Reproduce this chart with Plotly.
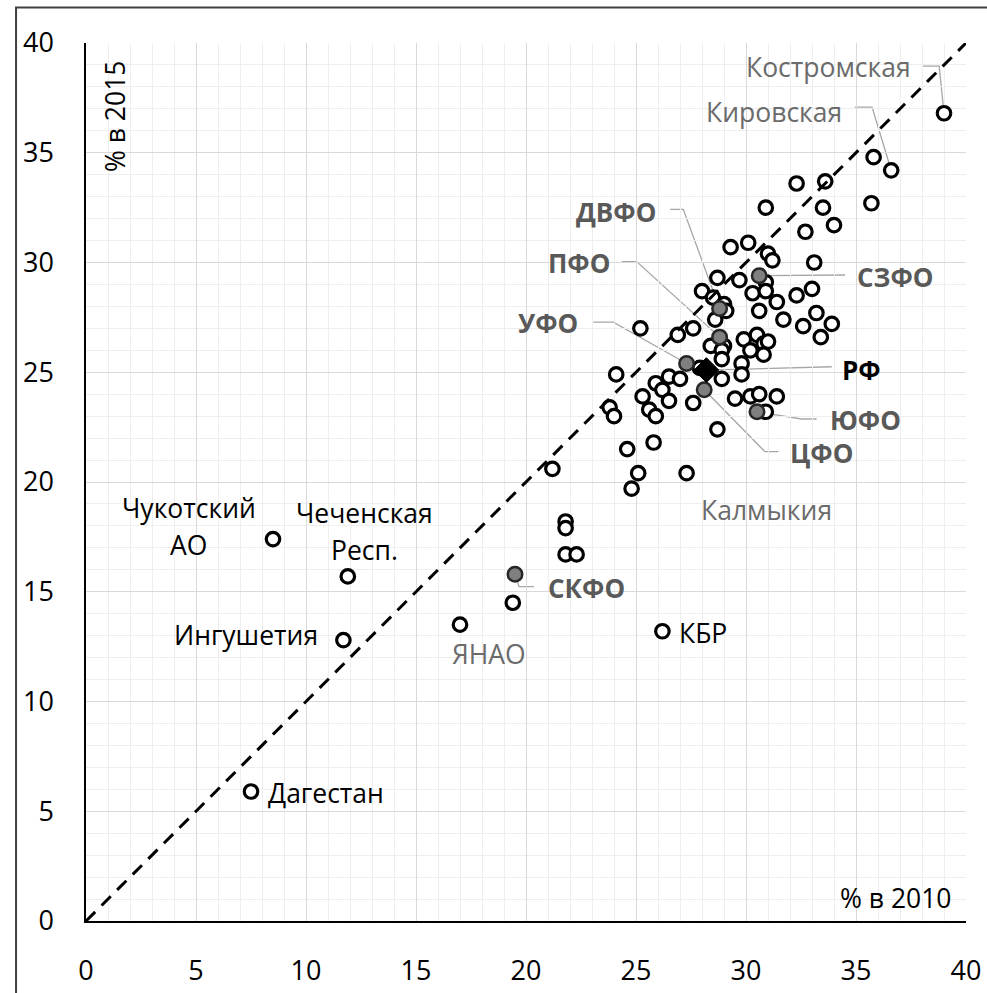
import plotly.graph_objects as go

# ---------------- data ----------------
# open-circle regions: % in 2010 (x) and % in 2015 (y)
reg_x = [39.0, 36.6, 35.8, 35.7, 33.6, 32.3, 30.9, 33.5, 34.0, 32.7, 29.3, 30.1, 31.0, 31.2, 33.1,
         28.7, 29.7, 30.9, 28.0, 28.5, 29.0, 29.1, 28.6, 30.3, 30.9, 31.4, 32.3, 33.0, 30.6, 31.7,
         33.2, 32.6, 33.9, 33.4, 25.2, 26.9, 27.6, 28.4, 29.0, 28.9, 29.9, 30.5, 30.8, 31.0, 30.2,
         30.8, 29.8, 29.8, 28.9, 27.9, 28.9, 24.1, 26.5, 27.0, 25.9, 26.2, 25.3, 26.5, 25.6, 25.9,
         23.8, 24.0, 27.6, 29.5, 30.2, 30.6, 31.4, 30.9, 28.7, 25.8, 24.6, 25.1, 24.8, 27.3, 21.2,
         21.8, 21.8, 21.8, 22.3, 19.4, 17.0, 26.2, 8.5, 11.9, 11.7, 7.5]
reg_y = [36.8, 34.2, 34.8, 32.7, 33.7, 33.6, 32.5, 32.5, 31.7, 31.4, 30.7, 30.9, 30.4, 30.1, 30.0,
         29.3, 29.2, 29.1, 28.7, 28.4, 28.1, 27.8, 27.4, 28.6, 28.7, 28.2, 28.5, 28.8, 27.8, 27.4,
         27.7, 27.1, 27.2, 26.6, 27.0, 26.7, 27.0, 26.2, 26.2, 26.0, 26.5, 26.7, 26.3, 26.4, 26.0,
         25.8, 25.4, 24.9, 25.6, 25.2, 24.7, 24.9, 24.8, 24.7, 24.5, 24.2, 23.9, 23.7, 23.3, 23.0,
         23.4, 23.0, 23.6, 23.8, 23.9, 24.0, 23.9, 23.2, 22.4, 21.8, 21.5, 20.4, 19.7, 20.4, 20.6,
         18.2, 17.9, 16.7, 16.7, 14.5, 13.5, 13.2, 17.4, 15.7, 12.8, 5.9]

# federal districts (grey filled)
fo_names = ["СЗФО", "ДВФО", "ПФО", "УФО", "ЦФО", "ЮФО", "СКФО"]
fo_x = [30.6, 28.8, 28.8, 27.3, 28.1, 30.5, 19.5]
fo_y = [29.4, 27.9, 26.6, 25.4, 24.2, 23.2, 15.8]

# Russian Federation
rf_x = [28.2]
rf_y = [25.1]

# diagonal reference line y = x
diag = [0, 40]

ticks = [0, 5, 10, 15, 20, 25, 30, 35, 40]

# ---------------- figure ----------------
FONT = "Open Sans"
fig = go.Figure()

fig.add_trace(go.Scatter(
    x=reg_x, y=reg_y, mode="markers", hoverinfo="skip",
    marker=dict(symbol="circle", size=13.5, color="white",
                line=dict(color="black", width=3.2))))
fig.add_trace(go.Scatter(
    x=fo_x, y=fo_y, mode="markers", hoverinfo="skip",
    marker=dict(symbol="circle", size=14.5, color="#7f7f7f",
                line=dict(color="#262626", width=2.5))))
fig.add_trace(go.Scatter(
    x=rf_x, y=rf_y, mode="markers", hoverinfo="skip",
    marker=dict(symbol="diamond", size=19, color="black",
                line=dict(color="black", width=1))))
fig.add_trace(go.Scatter(
    x=diag, y=diag, mode="lines", hoverinfo="skip",
    line=dict(color="black", width=3, dash="13px,9px")))

# ---------------- labels ----------------
GRAY = "#6b6b6b"
FOC = "#595959"
anns = [
    # text, x, y, xanchor, color, bold
    ("Костромская", 37.59, 38.92, "right", GRAY, False),
    ("Кировская", 34.45, 36.87, "right", GRAY, False),
    ("ДВФО", 26.0, 32.31, "right", FOC, True),
    ("ПФО", 23.9, 29.96, "right", FOC, True),
    ("УФО", 22.45, 27.23, "right", FOC, True),
    ("СЗФО", 34.95, 29.35, "left", FOC, True),
    ("РФ", 34.27, 25.1, "left", "black", True),
    ("ЮФО", 33.74, 22.82, "left", FOC, True),
    ("ЦФО", 31.92, 21.31, "left", FOC, True),
    ("СКФО", 20.89, 15.15, "left", FOC, True),
    ("Калмыкия", 30.95, 18.72, "center", GRAY, False),
    ("Чукотский", 4.67, 18.82, "center", "black", False),
    ("АО", 4.67, 17.11, "center", "black", False),
    ("Чеченская", 12.65, 18.59, "center", "black", False),
    ("Респ.", 12.68, 16.9, "center", "black", False),
    ("Ингушетия", 10.62, 13.05, "right", "black", False),
    ("Дагестан", 8.18, 5.84, "left", "black", False),
    ("ЯНАО", 18.31, 12.15, "center", GRAY, False),
    ("КБР", 26.86, 13.12, "left", "black", False),
    ("% в 2010", 39.45, 1.03, "right", "black", False),
]
for t, x, y, xa, col, bold in anns:
    fig.add_annotation(x=x, y=y, xref="x", yref="y", text=f"<b>{t}</b>" if bold else t,
                       showarrow=False, xanchor=xa, yanchor="middle",
                       font=dict(family=FONT, size=26 if bold else 26.5, color=col))
fig.add_annotation(x=1.29, y=36.69, xref="x", yref="y", text="% в 2015", textangle=-90,
                   showarrow=False, xanchor="center", yanchor="middle",
                   font=dict(family=FONT, size=26.5, color="black"))

# leader lines (label -> point)
leaders = [
    [(38.02, 38.95), (38.78, 38.95), (39.0, 36.8)],
    [(34.95, 37.08), (35.73, 37.08), (36.6, 34.2)],
    [(26.55, 32.42), (27.15, 32.42), (28.8, 27.9)],
    [(24.35, 30.04), (25.03, 30.04), (28.8, 26.6)],
    [(23.06, 27.28), (23.97, 27.28), (27.3, 25.4)],
    [(30.6, 29.4), (34.5, 29.43)],
    [(28.2, 25.1), (33.9, 25.25)],
    [(30.5, 23.2), (32.53, 22.87), (33.21, 22.87)],
    [(28.1, 24.2), (30.86, 21.38), (31.47, 21.38)],
    [(19.5, 15.8), (19.68, 15.23), (20.36, 15.23)],
]
shapes = []
for pts in leaders:
    path = "M " + " L ".join(f"{px},{py}" for px, py in pts)
    shapes.append(dict(type="path", path=path, xref="x", yref="y", layer="below",
                       line=dict(color="#a6a6a6", width=1.3)))
# outer chart frame
shapes.append(dict(type="rect", xref="paper", yref="paper", x0=-0.0795, y0=-0.09,
                   x1=1.03, y1=1.0405, line=dict(color="#404040", width=2),
                   fillcolor="rgba(0,0,0,0)"))

axis_common = dict(
    range=[0, 40], tickvals=ticks, showgrid=True, gridcolor="#d9d9d9", gridwidth=1,
    zeroline=False, showline=True, linecolor="black", linewidth=1.5, ticks="",
    automargin=False,
    tickfont=dict(family=FONT, size=27, color="black"),
    minor=dict(dtick=1, showgrid=True, gridcolor="#eeeeee", gridwidth=1),
)
fig.update_xaxes(**axis_common, ticklabelstandoff=25)
fig.update_yaxes(**axis_common, ticklabelstandoff=25)

fig.update_layout(
    width=987, height=993, showlegend=False,
    margin=dict(l=86, r=21, t=43, b=72),
    plot_bgcolor="white", paper_bgcolor="white",
    shapes=shapes,
)

fig.write_html("out.html", config={"displayModeBar": False},
               post_script="document.body.style.margin='0';"
                           "document.body.style.overflow='hidden';")
